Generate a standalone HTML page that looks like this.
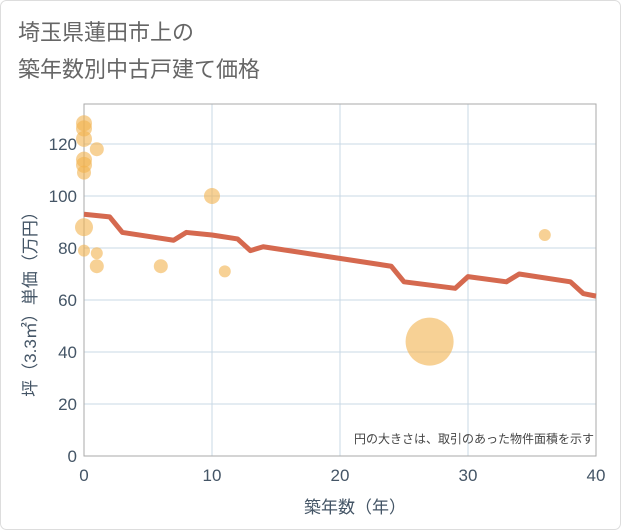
<!DOCTYPE html>
<html><head><meta charset="utf-8"><style>
body{margin:0;background:#fff;}
svg{display:block;font-family:"Liberation Sans","Noto Sans CJK JP",sans-serif;}
</style></head><body>
<svg id="chart" width="621" height="530">
<rect x="0.5" y="0.5" width="620" height="529" rx="6" fill="#fff" stroke="#ddd"/>
<text x="18" y="40" font-size="22" fill="#666">埼玉県蓮田市上の</text>
<text x="18" y="77" font-size="22" fill="#666">築年数別中古戸建て価格</text>
<g id="grid"></g>
<g id="bubbles"></g>
<g id="line"></g>
<text x="594" y="443" font-size="12" fill="#444" text-anchor="end">円の大きさは、取引のあった物件面積を示す</text>
<text x="355" y="513" font-size="17" fill="#456" text-anchor="middle">築年数（年）</text>
<text transform="translate(36,300) rotate(-90)" font-size="17" fill="#456" text-anchor="middle">坪（3.3㎡）単価（万円）</text>
</svg>
<script>
const xTicks=[0,10,20,30,40];
const yTicks=[0,20,40,60,80,100,120];
const bubbleX=[0,0,0,0,0,0,0,0,1,1,1,6,10,11,27,36];
const bubbleY=[128,126,122,114,112,109,88,79,118,78,73,73,100,71,44,85];
const bubbleR=[8,8,8,8,8,7,9,6,7,6,7,7,8,6,24,6];
const lineX=[0,2,3,5,7,8,10,12,13,14,24,25,29,30,33,34,38,39,40];
const lineY=[93,92,86,84.5,83,86,85,83.5,79,80.5,73,67,64.5,69,67,70,67,62.5,61.5];
const L=84,R=596,T=104,B=456,xMax=40,yMax=135.4;
const sx=v=>L+(R-L)*v/xMax, sy=v=>B-(B-T)*v/yMax;
const NS="http://www.w3.org/2000/svg";
const g=document.getElementById('grid');
function mk(tag,attrs,parent){const e=document.createElementNS(NS,tag);for(const k in attrs)e.setAttribute(k,attrs[k]);parent.appendChild(e);return e;}
xTicks.forEach(t=>{
 const l=mk('line',{x1:sx(t),x2:sx(t),y1:T,y2:B,stroke:'#c9d8e6'},g);
 
 
 const tx=mk('text',{x:sx(t),y:B+25,'font-size':17,fill:'#456','text-anchor':'middle'},g);
 tx.textContent=t;
 
 
});
yTicks.forEach(t=>{
 const l=mk('line',{x1:L,x2:R,y1:sy(t),y2:sy(t),stroke:'#c9d8e6'},g);
 
 
 const tx=mk('text',{x:L-7,y:sy(t)+6,'font-size':17,fill:'#456','text-anchor':'end'},g);
 tx.textContent=t;
 
 
});
const f=mk('rect',{x:L,y:T,width:R-L,height:B-T,fill:'none',stroke:'#aaa'},g);


const bg=document.getElementById('bubbles');
bubbleX.forEach((x,i)=>{
 const c=mk('circle',{cx:sx(x),cy:sy(bubbleY[i]),r:bubbleR[i],fill:'#f2b34e','fill-opacity':0.6},bg);
 
 
});
const p=mk('polyline',{points:lineX.map((x,i)=>sx(x)+','+sy(lineY[i])).join(' '),fill:'none',stroke:'#d5694f','stroke-width':5,'stroke-linejoin':'round'},document.getElementById('line'));


</script>
</body></html>
